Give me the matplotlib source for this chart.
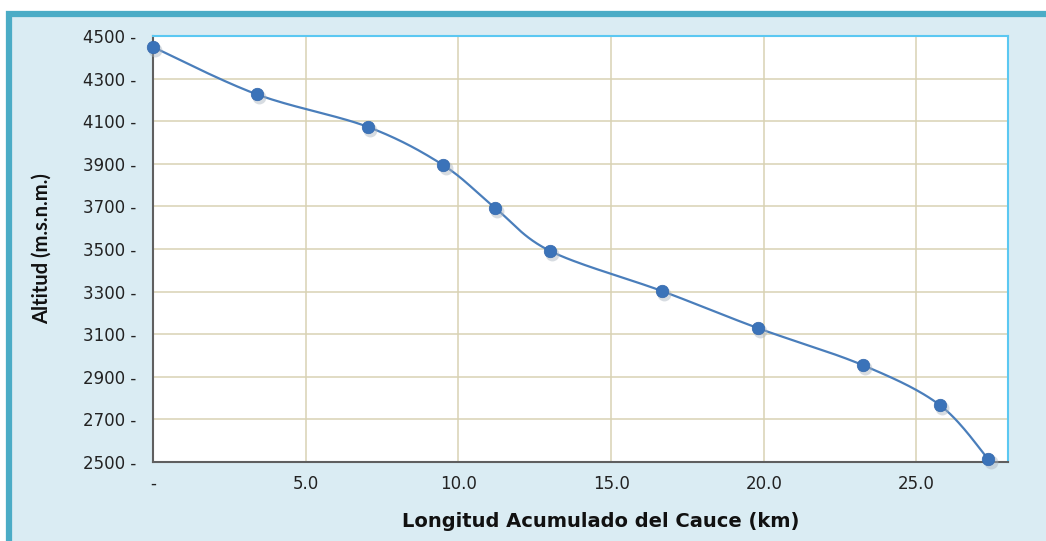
import numpy as np
import matplotlib.pyplot as plt
from matplotlib.patches import Rectangle
from matplotlib.ticker import FuncFormatter

# perfil longitudinal del cauce
longitud = [0.0, 3.4, 7.04, 9.5, 11.2, 13.0, 16.66, 19.8, 23.24, 25.76, 27.36]
altitud = [4448, 4226, 4073, 3894, 3693, 3491, 3303, 3129, 2955, 2768, 2512]

y_ticks = [2500, 2700, 2900, 3100, 3300, 3500, 3700, 3900, 4100, 4300, 4500]
x_ticks = [0, 5, 10, 15, 20, 25]


def catmull_rom(x, y, n=30):
    # curva suavizada entre puntos (tipo linea suavizada de Excel)
    p = np.column_stack([x, y]).astype(float)
    p = np.vstack([p[0], p, p[-1]])
    out = []
    for i in range(1, len(p) - 2):
        p0, p1, p2, p3 = p[i - 1], p[i], p[i + 1], p[i + 2]
        t = np.linspace(0, 1, n)[:, None]
        seg = 0.5 * ((2 * p1) + (-p0 + p2) * t + (2 * p0 - 5 * p1 + 4 * p2 - p3) * t ** 2
                     + (-p0 + 3 * p1 - 3 * p2 + p3) * t ** 3)
        out.append(seg)
    s = np.vstack(out)
    return s[:, 0], s[:, 1]


plt.rcParams['font.family'] = ['DejaVu Sans']

fig = plt.figure(figsize=(10.46, 5.41), dpi=100)
fig.patch.set_facecolor('white')

# marco exterior celeste con borde
fig.patches.append(Rectangle((0.0086, -0.05), 1.2, 1.0244, transform=fig.transFigure,
                             facecolor='#DAECF3', edgecolor='#4BACC6', linewidth=4.5,
                             zorder=-10))

ax = fig.add_axes([0.1463, 0.146, 0.8174, 0.7875])
ax.set_zorder(1)
ax.set_facecolor('white')

xs, ys = catmull_rom(longitud, altitud)
ax.plot(xs, ys, color='#4A7EBB', linewidth=1.6, zorder=3)
# sombra de los marcadores
ax.plot(np.array(longitud) + 0.08, np.array(altitud) - 14, 'o', color='#A8B2BE',
        markersize=10, alpha=0.45, markeredgewidth=0, zorder=3, clip_on=False)
ax.plot(longitud, altitud, 'o', color='#3B73B9', markersize=9,
        markeredgecolor='#3468AC', markeredgewidth=0.5, zorder=4, clip_on=False)

ax.set_xlim(0, 28)
ax.set_ylim(2500, 4500)
ax.set_xticks(x_ticks)
ax.set_yticks(y_ticks)
ax.xaxis.set_major_formatter(FuncFormatter(lambda v, p: '-' if v == 0 else f'{v:.1f}'))
ax.yaxis.set_major_formatter(FuncFormatter(lambda v, p: f'{v:.0f} -'))
ax.tick_params(length=0, labelsize=12, colors='#222222')
ax.tick_params(axis='x', pad=9)
ax.tick_params(axis='y', pad=12)

ax.grid(True, color='#D8D2B4', linewidth=1.1)
ax.set_axisbelow(True)

for side in ['left', 'bottom']:
    ax.spines[side].set_color('#5F5F5F')
    ax.spines[side].set_linewidth(1.5)
for side in ['top', 'right']:
    ax.spines[side].set_color('#5BC8F2')
    ax.spines[side].set_linewidth(1.5)

ax.set_xlabel('Longitud Acumulado del Cauce (km)', fontsize=14, fontweight='bold',
              color='#111111')
ax.xaxis.set_label_coords(0.524, -0.117)
ax.set_ylabel('Altitud (m.s.n.m.)', fontsize=14.5, fontweight='bold',
              color='#111111', family=['Lato', 'DejaVu Sans'])
ax.yaxis.set_label_coords(-0.119, 0.5)

fig.savefig('out.png', dpi=100, facecolor=fig.get_facecolor())
